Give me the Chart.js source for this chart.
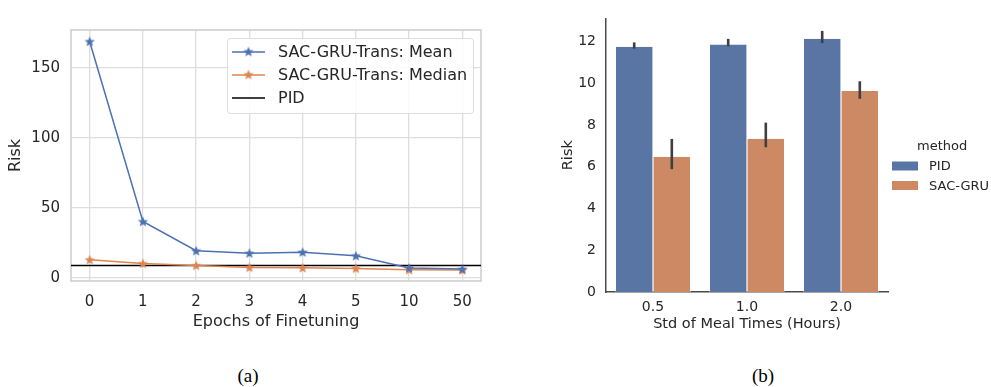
<!DOCTYPE html>
<html>
<head>
<meta charset="utf-8">
<script src="https://cdn.jsdelivr.net/npm/chart.js@4.4.0/dist/chart.umd.min.js"></script>
<style>
  body { margin: 0; background: #fff; width: 991px; height: 387px; position: relative; overflow: hidden; }
  #wrapA { position: absolute; left: 0; top: 0; width: 500px; height: 340px; }
  #wrapB { position: absolute; left: 520px; top: 0; width: 471px; height: 340px; }
  .cap { position: absolute; top: 365px; font-family: "Liberation Serif", serif; font-size: 19px; color: #000; transform: translateX(-50%); }
</style>
</head>
<body>
<div id="wrapA"><canvas id="lineChart"></canvas></div>
<div id="wrapB"><canvas id="barChart"></canvas></div>
<div class="cap" style="left:248px">(a)</div>
<div class="cap" style="left:763px">(b)</div>
<script>
// ---- data (a)
const epochLabels = ['0', '1', '2', '3', '4', '5', '10', '50'];
const meanRisk = [168.8, 40.2, 19.3, 17.6, 18.3, 15.7, 7.0, 6.2];
const medianRisk = [12.9, 10.2, 8.8, 7.4, 7.1, 6.7, 5.7, 5.5];
const pidRisk = 8.8;
const riskTicksA = [0, 50, 100, 150];

// ---- data (b)
const mealStd = ['0.5', '1.0', '2.0'];
const pidBars = [11.74, 11.85, 12.12];
const pidLow = [11.65, 11.76, 11.92];
const pidHigh = [11.95, 12.12, 12.5];
const sacBars = [6.47, 7.34, 9.62];
const sacLow = [5.88, 6.93, 9.25];
const sacHigh = [7.33, 8.11, 10.09];
const riskTicksB = [0, 2, 4, 6, 8, 10, 12];

const FONT = "'DejaVu Sans', sans-serif";
const TXT = '#262626';
const BLUE = '#4c72b0', ORANGE = '#dd8452';
const BAR_BLUE = '#5975a4', BAR_ORANGE = '#cc8963';

function starImg(color) {
  const c = document.createElement('canvas');
  c.width = 12; c.height = 12;
  const g = c.getContext('2d');
  g.beginPath();
  for (let i = 0; i < 10; i++) {
    const r = i % 2 === 0 ? 5.5 : 2.3;
    const a = -Math.PI / 2 + i * Math.PI / 5;
    const px = 6 + r * Math.cos(a), py = 6.4 + r * Math.sin(a);
    if (i === 0) g.moveTo(px, py); else g.lineTo(px, py);
  }
  g.closePath();
  g.fillStyle = color;
  g.fill();
  return c;
}

const xMin = -0.35, xMax = epochLabels.length - 1 + 0.35;

// frame + legend inside plot for chart (a)
const frameLegend = {
  id: 'frameLegend',
  beforeDatasetsDraw(chart) {
    const { ctx, chartArea: a } = chart;
    ctx.save();
    ctx.strokeStyle = '#cccccc';
    ctx.lineWidth = 1.5;
    ctx.strokeRect(a.left, a.top, a.right - a.left, a.bottom - a.top);
    ctx.restore();
  },
  afterDraw(chart) {
    const ctx = chart.ctx;
    const x = 227, y = 38, w = 246, h = 75;
    ctx.save();
    ctx.fillStyle = 'rgba(255,255,255,0.85)';
    ctx.strokeStyle = '#dddddd';
    ctx.lineWidth = 1;
    ctx.beginPath();
    ctx.roundRect(x + 0.5, y + 0.5, w, h, 3);
    ctx.fill(); ctx.stroke();
    ctx.font = '16px ' + FONT;
    ctx.textBaseline = 'middle';
    chart.data.datasets.forEach((ds, i) => {
      const cy = y + 14 + i * 23;
      ctx.strokeStyle = ds.borderColor;
      ctx.lineWidth = 1.5;
      ctx.beginPath(); ctx.moveTo(x + 5, cy); ctx.lineTo(x + 38, cy); ctx.stroke();
      if (ds.pointStyle && ds.pointRadius > 0) ctx.drawImage(ds.pointStyle, x + 15.5, cy - 6.4);
      ctx.fillStyle = TXT;
      ctx.fillText(ds.label, x + 51, cy + 1);
    });
    ctx.restore();
  }
};

new Chart(document.getElementById('lineChart'), {
  type: 'line',
  data: {
    datasets: [
      {
        label: 'SAC-GRU-Trans: Mean',
        data: meanRisk.map((v, i) => ({ x: i, y: v })),
        borderColor: BLUE, borderWidth: 1.5,
        pointStyle: starImg(BLUE), pointRadius: 6, tension: 0
      },
      {
        label: 'SAC-GRU-Trans: Median',
        data: medianRisk.map((v, i) => ({ x: i, y: v })),
        borderColor: ORANGE, borderWidth: 1.5,
        pointStyle: starImg(ORANGE), pointRadius: 6, tension: 0
      },
      {
        label: 'PID',
        data: [{ x: xMin, y: pidRisk }, { x: xMax, y: pidRisk }],
        borderColor: '#000000', borderWidth: 1.5, pointRadius: 0
      }
    ]
  },
  options: {
    responsive: true, maintainAspectRatio: false, animation: false,
    layout: { padding: { left: 0, top: 30, right: 19, bottom: 5 } },
    plugins: { legend: { display: false }, tooltip: { enabled: false } },
    scales: {
      x: {
        type: 'linear', min: xMin, max: xMax,
        afterFit: s => { s.height = 54; },
        afterBuildTicks: s => { s.ticks = epochLabels.map((_, i) => ({ value: i })); },
        grid: { color: '#dddddd', lineWidth: 1.3, drawTicks: false },
        border: { display: false },
        ticks: { color: TXT, font: { family: FONT, size: 15 }, padding: 12,
                 callback: v => epochLabels[v] },
        title: { display: true, text: 'Epochs of Finetuning', color: TXT,
                 font: { family: FONT, size: 16 }, padding: { top: 0, bottom: 4 } }
      },
      y: {
        min: -2.3, max: 177,
        afterFit: s => { s.width = 71; },
        afterBuildTicks: s => { s.ticks = riskTicksA.map(v => ({ value: v })); },
        grid: { color: '#dddddd', lineWidth: 1.3, drawTicks: false },
        border: { display: false },
        ticks: { color: TXT, font: { family: FONT, size: 15 }, padding: 11 },
        title: { display: true, text: 'Risk', color: TXT,
                 font: { family: FONT, size: 16 }, padding: { top: 6, bottom: 4 } }
      }
    }
  },
  plugins: [frameLegend]
});

// error bars + legend for chart (b)
const errLegend = {
  id: 'errLegend',
  afterDatasetsDraw(chart) {
    const ctx = chart.ctx, ys = chart.scales.y;
    const lows = [pidLow, sacLow], highs = [pidHigh, sacHigh];
    ctx.save();
    ctx.strokeStyle = '#3f3f3f';
    ctx.lineWidth = 2.6;
    chart.data.datasets.forEach((ds, d) => {
      chart.getDatasetMeta(d).data.forEach((bar, i) => {
        ctx.beginPath();
        ctx.moveTo(bar.x, ys.getPixelForValue(lows[d][i]));
        ctx.lineTo(bar.x, ys.getPixelForValue(highs[d][i]));
        ctx.stroke();
      });
    });
    ctx.restore();
  },
  afterDraw(chart) {
    const ctx = chart.ctx;
    const x = 372;
    ctx.save();
    ctx.font = '13px ' + FONT;
    ctx.textBaseline = 'middle';
    ctx.fillStyle = TXT;
    ctx.fillText('method', x + 25, 147);
    chart.data.datasets.forEach((ds, i) => {
      const cy = 166 + i * 19.5;
      ctx.fillStyle = ds.backgroundColor;
      ctx.fillRect(x, cy - 4.5, 26, 9);
      ctx.fillStyle = TXT;
      ctx.fillText(ds.label, x + 37, cy + 1);
    });
    ctx.restore();
  }
};

new Chart(document.getElementById('barChart'), {
  type: 'bar',
  data: {
    labels: mealStd,
    datasets: [
      { label: 'PID', data: pidBars, backgroundColor: BAR_BLUE,
        borderColor: '#ffffff', borderWidth: { left: 0.6, right: 0.6, top: 0, bottom: 0 },
        categoryPercentage: 0.8, barPercentage: 1.0 },
      { label: 'SAC-GRU', data: sacBars, backgroundColor: BAR_ORANGE,
        borderColor: '#ffffff', borderWidth: { left: 0.6, right: 0.6, top: 0, bottom: 0 },
        categoryPercentage: 0.8, barPercentage: 1.0 }
    ]
  },
  options: {
    responsive: true, maintainAspectRatio: false, animation: false,
    layout: { padding: { left: 0, top: 6, right: 103, bottom: 3 } },
    plugins: { legend: { display: false }, tooltip: { enabled: false } },
    scales: {
      x: {
        afterFit: s => { s.height = 45; },
        grid: { display: false, drawTicks: false },
        border: { display: true, color: '#4a4a4a', width: 1.5 },
        ticks: { color: TXT, font: { family: FONT, size: 14 }, padding: 7 },
        title: { display: true, text: 'Std of Meal Times (Hours)', color: TXT,
                 font: { family: FONT, size: 14.5 }, padding: { top: 0, bottom: 4 } }
      },
      y: {
        min: 0, max: 13.1,
        afterFit: s => { s.width = 86; },
        afterBuildTicks: s => { s.ticks = riskTicksB.map(v => ({ value: v })); },
        grid: { display: false, drawTicks: false },
        border: { display: true, color: '#4a4a4a', width: 1.5 },
        ticks: { color: TXT, font: { family: FONT, size: 14 }, padding: 10 },
        title: { display: true, text: 'Risk', color: TXT,
                 font: { family: FONT, size: 14.5 }, padding: { top: 40, bottom: 4 } }
      }
    }
  },
  plugins: [errLegend]
});
</script>
</body>
</html>
